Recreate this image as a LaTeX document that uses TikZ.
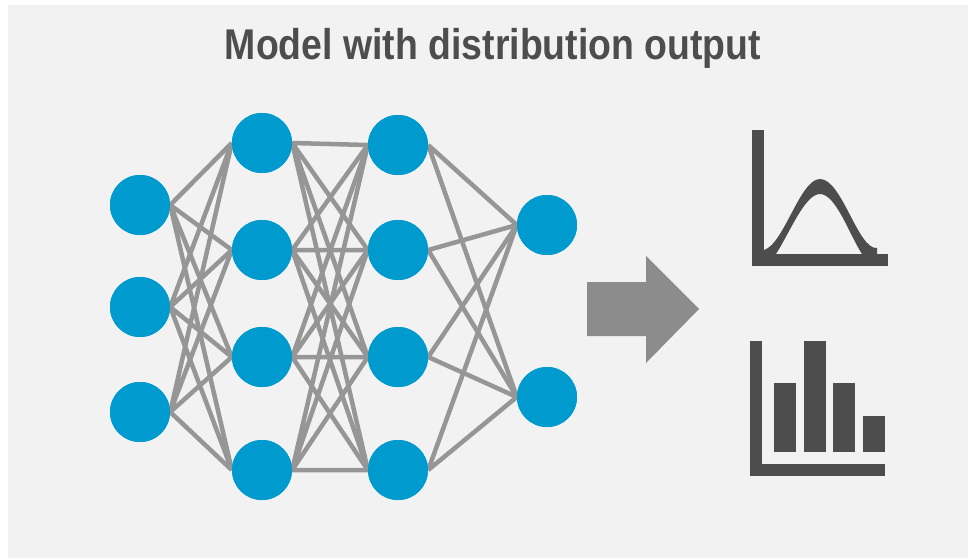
\documentclass[tikz,border=0pt]{standalone}
\usepackage{fontspec}
\newfontfamily\titlefont[FakeStretch=0.87]{Liberation Sans}
\definecolor{panelgray}{HTML}{F2F2F2}
\definecolor{nodeblue}{HTML}{009BCE}
\definecolor{edgegray}{HTML}{969696}
\definecolor{icongray}{HTML}{4D4D4D}
\definecolor{arrowgray}{HTML}{8C8C8C}
\tikzset{
	neuron/.style={circle,fill=nodeblue,minimum size=60pt,inner sep=0pt},
	edge/.style={edgegray,line width=4.5pt},
	icon/.style={fill=icongray,draw=none}
}
\begin{document}
\begin{tikzpicture}[x=1pt,y=-1pt]
			\useasboundingbox(0,0)rectangle(968,558);
			\fill[panelgray](8,5)rectangle(968,558);
			\node[icongray,anchor=base,inner sep=0pt,font=\titlefont\bfseries\fontsize{43}{43}\selectfont](title)at(493,59){Model with distribution output};
			% input layer
			\node[neuron](i1)at(140,205){};
			\node[neuron](i2)at(140,307){};
			\node[neuron](i3)at(140,412){};
			% first hidden layer
			\node[neuron](a1)at(262,143){};
			\node[neuron](a2)at(262,250){};
			\node[neuron](a3)at(262,357){};
			\node[neuron](a4)at(262,470){};
			% second hidden layer
			\node[neuron](b1)at(398,145){};
			\node[neuron](b2)at(398,250){};
			\node[neuron](b3)at(398,357){};
			\node[neuron](b4)at(398,470){};
			% output layer
			\node[neuron](o1)at(547,225){};
			\node[neuron](o2)at(547,397){};
			\draw[edge](i1.east)--(a1.west)(i1.east)--(a2.west)(i1.east)--(a3.west)(i1.east)--(a4.west);
			\draw[edge](i2.east)--(a1.west)(i2.east)--(a2.west)(i2.east)--(a3.west)(i2.east)--(a4.west);
			\draw[edge](i3.east)--(a1.west)(i3.east)--(a2.west)(i3.east)--(a3.west)(i3.east)--(a4.west);
			\draw[edge](a1.east)--(b1.west)(a1.east)--(b2.west)(a1.east)--(b3.west)(a1.east)--(b4.west);
			\draw[edge](a2.east)--(b1.west)(a2.east)--(b2.west)(a2.east)--(b3.west)(a2.east)--(b4.west);
			\draw[edge](a3.east)--(b1.west)(a3.east)--(b2.west)(a3.east)--(b3.west)(a3.east)--(b4.west);
			\draw[edge](a4.east)--(b1.west)(a4.east)--(b2.west)(a4.east)--(b3.west)(a4.east)--(b4.west);
			\draw[edge](b1.east)--(o1.west)(b1.east)--(o2.west);
			\draw[edge](b2.east)--(o1.west)(b2.east)--(o2.west);
			\draw[edge](b3.east)--(o1.west)(b3.east)--(o2.west);
			\draw[edge](b4.east)--(o1.west)(b4.east)--(o2.west);
			% redraw the circles on top of the lines
			\foreach \n in {i1,i2,i3,a1,a2,a3,a4,b1,b2,b3,b4,o1,o2}
				\fill[nodeblue](\n)circle(30);
			% arrow
			\fill[arrowgray](587,282)--(646,282)--(646,256)--(699,309)--(646,363)--(646,336)--(587,336)--cycle;
			% density icon
			\fill[icon](752,130)rectangle(764,266);
			\fill[icon](752,254)rectangle(888,266);
			\fill[icon](764,250)..controls(784,244)and(800,179)..(820,179)
				..controls(842,179)and(858,250)..(877,248)--(877,254)--(862,254)
				..controls(850,236)and(836,194)..(820,194)
				..controls(805,194)and(790,232)..(776,254)--(764,254)--cycle;
			% histogram icon
			\fill[icon](750,341)rectangle(762,476);
			\fill[icon](750,464)rectangle(885,476);
			\fill[icon](774,383)rectangle(796,452);
			\fill[icon](804,341)rectangle(826,452);
			\fill[icon](833,383)rectangle(855,452);
			\fill[icon](863,416)rectangle(885,452);
		\end{tikzpicture}
\end{document}
